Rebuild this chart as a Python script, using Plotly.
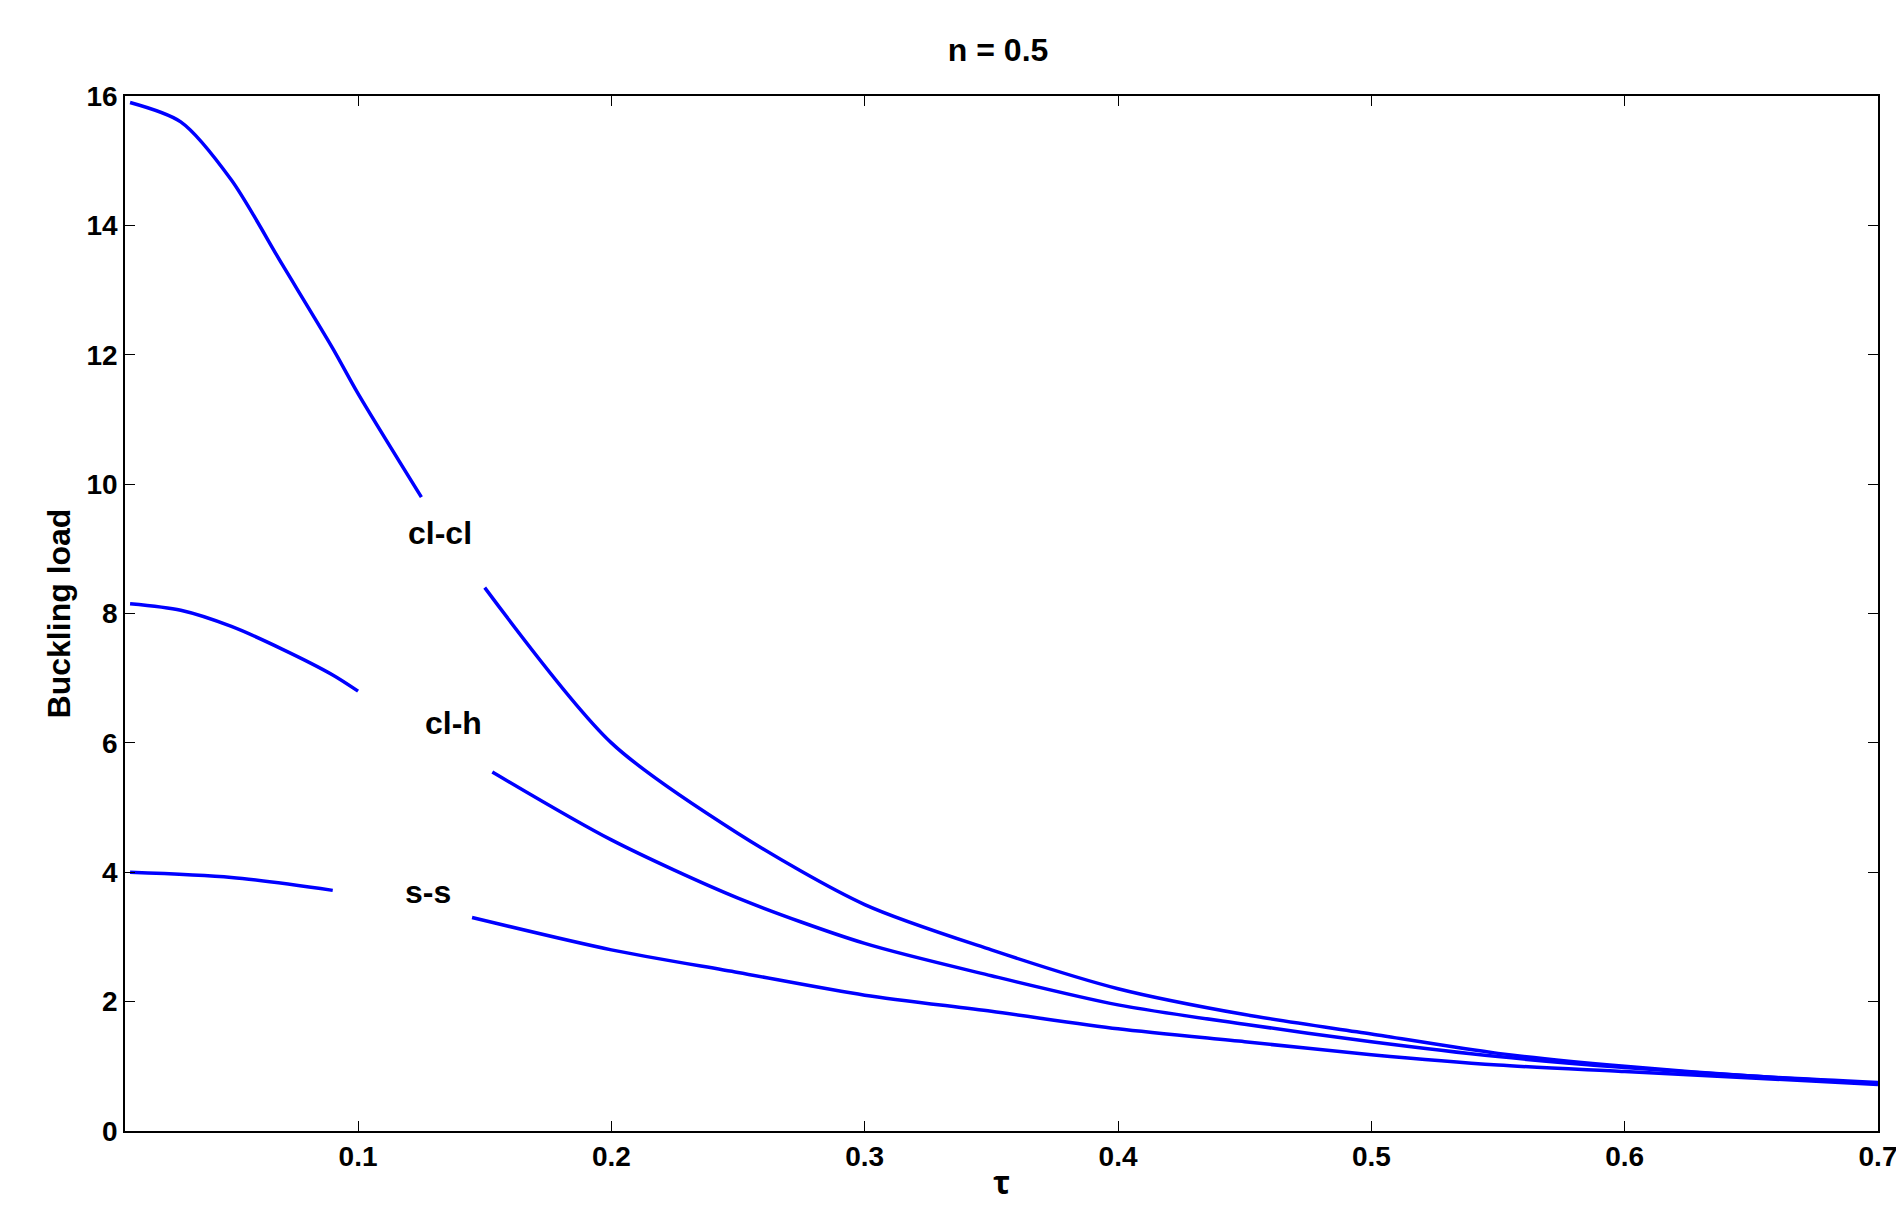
import plotly.graph_objects as go

x_clcl = [0.01,0.03,0.05,0.07,0.09,0.1,0.125,None,0.15,0.2,0.25,0.3,0.35,0.4,0.45,0.5,0.55,0.6,0.65,0.7]
y_clcl = [15.9,15.6,14.7,13.4,12.1,11.4,9.8,None,8.4,6.0,4.6,3.5,2.8,2.2,1.8,1.5,1.2,1.0,0.85,0.75]
x_clh = [0.01,0.03,0.05,0.07,0.09,0.1,None,0.153,0.2,0.25,0.3,0.35,0.4,0.45,0.5,0.55,0.6,0.65,0.7]
y_clh = [8.15,8.05,7.8,7.45,7.05,6.8,None,5.55,4.5,3.6,2.9,2.4,1.95,1.65,1.38,1.15,0.98,0.85,0.73]
x_ss = [0.01,0.05,0.09,None,0.145,0.2,0.25,0.3,0.35,0.4,0.45,0.5,0.55,0.6,0.65,0.7]
y_ss = [4.0,3.92,3.72,None,3.3,2.8,2.45,2.1,1.85,1.58,1.38,1.18,1.02,0.92,0.82,0.72]
labels = [("cl-cl",0.1325,9.25),("cl-h",0.1375,6.3),("s-s",0.1275,3.7)]

fig = go.Figure()
for xs, ys in [(x_clcl,y_clcl),(x_clh,y_clh),(x_ss,y_ss)]:
    fig.add_trace(go.Scatter(x=xs, y=ys, mode="lines", line=dict(color="#0000ff", width=3.5, shape="spline", smoothing=0.8),
                             connectgaps=False, showlegend=False))
for t, lx, ly in labels:
    fig.add_annotation(x=lx, y=ly, text="<b>"+t+"</b>", showarrow=False,
                       font=dict(size=32, color="black", family="Liberation Sans"))
ax = dict(showline=True, linecolor="black", linewidth=1.5, mirror="ticks", ticks="inside",
          ticklen=10, tickcolor="black", showgrid=False, zeroline=False,
          tickfont=dict(size=28, family="Liberation Sans", color="black"))
fig.update_xaxes(range=[0.008, 0.7], tickvals=[0.1,0.2,0.3,0.4,0.5,0.6,0.7],
                 ticktext=["<b>%.1f</b>" % v for v in [0.1,0.2,0.3,0.4,0.5,0.6,0.7]],
                 title=dict(text="<b>τ</b>", font=dict(size=32, color="black"), standoff=0), **ax)
fig.update_yaxes(range=[0, 16], tickvals=list(range(0,17,2)),
                 ticktext=["<b>%d</b>" % v for v in range(0,17,2)],
                 title=dict(text="<b>Buckling load</b>", font=dict(size=32, color="black", family="Liberation Sans"), standoff=6), **ax)
fig.update_layout(width=1904, height=1215, plot_bgcolor="white", paper_bgcolor="white",
                  margin=dict(l=117, r=34, t=88, b=92),
                  title=dict(text="<b>n = 0.5</b>", x=0.52, y=0.975, xanchor="center",
                             font=dict(size=32, color="black", family="Liberation Sans")))
fig.write_html("out.html")
